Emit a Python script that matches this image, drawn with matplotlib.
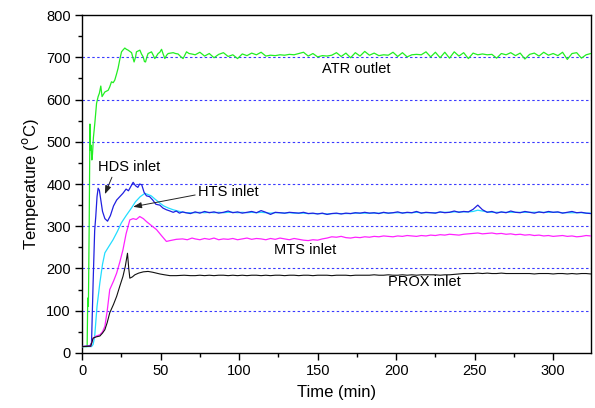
import numpy as np
import matplotlib
matplotlib.use("Agg")
import matplotlib.pyplot as plt
from matplotlib.ticker import MultipleLocator

plt.rcParams['font.family'] = ['Liberation Sans', 'DejaVu Sans']

# ---------------- data ----------------
atr_t_early = [0, 3.2, 3.6, 4.0, 4.5, 5.0, 5.3, 5.7, 6.2, 6.6, 7.2, 8.1, 9.2, 10.2, 11.0,
               11.9, 12.7, 13.5, 14.5, 15.5, 16.6, 17.6, 18.7, 19.8, 20.8, 21.9, 22.9, 24.0, 25.1, 26.2,
               27.2, 28.2, 29.3, 30.4, 31.5, 32.3, 33.1, 34.0, 34.6, 35.7, 36.8, 37.8, 38.9, 39.7, 40.4,
               41.2, 42.0, 43.1, 44.2, 45.3, 46.3, 47.4, 48.4, 49.5, 50.6, 51.6, 52.7, 53.8, 54.8, 56.4,
               58.0, 59.5, 61.1, 62.7, 64.3, 65.4, 66.5, 68.1, 69.7]
atr_v_early = [15, 15, 130, 110, 300, 542, 480, 492, 457, 470, 510, 544, 591, 607, 615,
               632, 607, 612, 618, 620, 622, 630, 642, 640, 646, 660, 674, 695, 713, 718,
               722, 719, 717, 714, 711, 700, 689, 700, 713, 715, 717, 708, 701, 690, 689,
               700, 709, 711, 713, 705, 697, 703, 709, 712, 719, 708, 697, 705, 709, 710,
               711, 709, 708, 702, 697, 705, 713, 709, 708]

hds_t_early = [0, 5.0, 6.0, 7.0, 8.0, 8.7, 9.5, 10.2, 11.0, 12.0, 13.0, 14.5, 16.2, 18.0, 20.0,
               22.0, 24.0, 26.0, 28.0, 29.5, 31.0, 32.5, 34.0, 35.5, 36.7, 38.0, 39.5, 41.0, 43.0, 45.0,
               47.0, 49.5, 51.5, 53.7, 56.0, 58.0, 60.0, 62.0, 64.0, 66.0, 69.0]
hds_v_early = [15, 17, 24, 165, 290, 323, 370, 390, 385, 360, 335, 318, 312, 325, 348,
               362, 370, 378, 388, 384, 394, 404, 396, 392, 400, 398, 380, 372, 370, 362,
               352, 350, 343, 339, 336, 333, 336, 331, 334, 332, 330]

hts_t_early = [0, 6, 7, 8, 9.5, 11.3, 13, 14.5, 17, 19.7, 22.5, 25, 28, 31.4, 34,
               37, 40, 42, 44, 46.5, 49.5, 52, 55, 58, 61, 64, 67, 69]
hts_v_early = [15, 15, 20, 39, 110, 166, 210, 237, 252, 268, 288, 308, 325, 343, 358,
               370, 378, 375, 372, 364, 355, 348, 343, 339, 336, 333, 332, 332]

mts_t_early = [0, 5.5, 7, 9, 11.3, 13, 14.5, 16, 17.6, 20, 22, 24, 26, 28, 30.4,
               32.5, 34.5, 36.7, 39, 41, 44, 47.4, 50.5, 53.7, 56, 60, 64, 67, 70]
mts_v_early = [15, 16, 35, 40, 43, 50, 63, 100, 150, 170, 189, 215, 244, 282, 315,
               318, 316, 323, 318, 311, 302, 292, 278, 264, 266, 269, 270, 268, 272]

prox_t_early = [0, 5.5, 7, 9, 11.3, 13, 14.5, 16, 17.6, 20, 22, 24, 26, 27.5, 28.9,
                29.7, 30.4, 32, 33.6, 36, 39, 42, 45, 49.5, 52.5, 55.9, 60, 65, 69]
prox_v_early = [15, 16, 35, 38, 40, 47, 55, 72, 95, 115, 134, 158, 181, 205, 236,
                200, 177, 180, 185, 189, 192, 193, 191, 187, 185, 183, 183, 184, 183]

# steady part, sampled every 3 min from 72 to 324
t_late = list(range(72, 325, 3))
atr_v_late = [706, 712, 703, 709, 699, 707, 711, 702, 706, 697,
              708, 704, 710, 706, 712, 703, 705, 704, 706, 705,
              707, 706, 709, 712, 703, 709, 701, 704, 703, 705,
              711, 702, 710, 699, 711, 703, 714, 705, 710, 704,
              706, 705, 712, 702, 711, 701, 706, 707, 706, 713,
              701, 712, 699, 712, 698, 713, 703, 711, 697, 710,
              706, 708, 706, 707, 698, 709, 706, 711, 704, 710,
              696, 707, 710, 703, 712, 705, 709, 704, 712, 695,
              709, 711, 698, 706, 709]
hds_v_late = [334, 331, 335, 332, 334, 331, 333, 336, 332, 334,
              331, 333, 335, 332, 337, 333, 328, 333, 332, 331,
              333, 332, 331, 333, 330, 331, 329, 331, 328, 330,
              331, 329, 331, 330, 332, 331, 333, 331, 332, 330,
              333, 331, 332, 334, 331, 333, 332, 335, 331, 333,
              332, 331, 334, 332, 333, 336, 333, 335, 334, 340,
              350, 339, 333, 335, 331, 334, 332, 336, 333, 332,
              335, 333, 331, 334, 332, 335, 333, 334, 331, 333,
              335, 332, 333, 331, 330]
hts_v_late = [332, 333, 332, 333, 332, 333, 332, 333, 333, 332,
              333, 332, 333, 332, 333, 332, 331, 332, 332, 331,
              332, 331, 331, 331, 330, 330, 330, 330, 329, 330,
              330, 330, 330, 330, 331, 331, 331, 331, 331, 331,
              332, 331, 332, 332, 332, 332, 332, 333, 332, 332,
              332, 332, 333, 333, 333, 334, 334, 334, 334, 335,
              338, 336, 334, 333, 333, 333, 333, 333, 333, 333,
              333, 333, 333, 333, 333, 333, 333, 333, 332, 332,
              332, 332, 332, 331, 331]
mts_v_late = [270, 268, 271, 269, 272, 268, 270, 269, 271, 268,
              270, 272, 269, 271, 270, 268, 271, 269, 272, 270,
              268, 271, 269, 267, 266, 268, 267, 270, 272, 275,
              274, 276, 273, 272, 274, 273, 275, 274, 276, 275,
              277, 276, 275, 277, 276, 278, 277, 276, 278, 277,
              279, 278, 280, 279, 281, 280, 279, 281, 282, 283,
              284, 282, 283, 284, 282, 283, 281, 282, 280, 281,
              279, 280, 278, 279, 277, 278, 276, 277, 278, 276,
              277, 275, 276, 278, 277]
prox_v_late = [183, 184, 183, 184, 183, 184, 184, 183, 184, 183,
               184, 183, 184, 184, 183, 184, 183, 184, 184, 183,
               184, 184, 183, 184, 184, 183, 184, 184, 184, 183,
               184, 184, 184, 183, 184, 184, 184, 184, 185, 184,
               184, 185, 184, 184, 185, 184, 185, 184, 185, 185,
               185, 185, 184, 185, 185, 186, 187, 188, 188, 188,
               189, 188, 189, 188, 188, 189, 188, 188, 188, 188,
               188, 188, 187, 188, 188, 188, 187, 188, 188, 187,
               188, 187, 188, 188, 187]

x_ticks = [0, 50, 100, 150, 200, 250, 300]
y_ticks = [0, 100, 200, 300, 400, 500, 600, 700, 800]

# ---------------- figure ----------------
fig = plt.figure(figsize=(5.95, 4.08), dpi=100)
ax = fig.add_axes([0.138, 0.135, 0.855, 0.828])

for y in y_ticks[1:-1]:
    ax.axhline(y, color='#3a3aff', lw=0.8, ls=(0, (2.2, 2.2)), zorder=1)

series = [
    (atr_t_early, atr_v_early, atr_v_late, '#22ee22', 0.9),
    (hts_t_early, hts_v_early, hts_v_late, '#22ddff', 0.9),
    (hds_t_early, hds_v_early, hds_v_late, '#2020e0', 0.9),
    (mts_t_early, mts_v_early, mts_v_late, '#ff22ff', 0.9),
    (prox_t_early, prox_v_early, prox_v_late, '#111111', 0.8),
]
for te, ve, vl, c, lw in series:
    ax.plot(list(te) + t_late, list(ve) + vl, color=c, lw=lw, zorder=3)

ax.set_xlim(0, 324)
ax.set_ylim(0, 800)
ax.set_xticks(x_ticks)
ax.set_yticks(y_ticks)
ax.xaxis.set_minor_locator(MultipleLocator(25))
ax.yaxis.set_minor_locator(MultipleLocator(50))
ax.tick_params(which='both', direction='out', top=False, right=False, width=1.0)
ax.tick_params(which='major', length=5, labelsize=10.5, pad=3)
ax.tick_params(which='minor', length=3)
for s in ax.spines.values():
    s.set_linewidth(1.0)

ax.set_xlabel('Time (min)', fontsize=12, labelpad=5)
ax.set_ylabel('Temperature ($^{\\rm o}$C)', fontsize=12, labelpad=4)

fs = 10.5
ax.text(153, 672, 'ATR outlet', fontsize=fs, va='center', ha='left')
ax.text(122, 244, 'MTS inlet', fontsize=fs, va='center', ha='left')
ax.text(195, 167, 'PROX inlet', fontsize=fs, va='center', ha='left')
ax.text(10, 440, 'HDS inlet', fontsize=fs, va='center', ha='left')
ax.text(74, 381, 'HTS inlet', fontsize=fs, va='center', ha='left')

ax.annotate('', xy=(14.5, 376), xytext=(19, 416),
            arrowprops=dict(arrowstyle='-|>,head_length=0.5,head_width=0.18',
                            color='#222222', lw=0.7, shrinkA=0, shrinkB=0))
ax.annotate('', xy=(32.5, 346), xytext=(72, 374),
            arrowprops=dict(arrowstyle='-|>,head_length=0.5,head_width=0.18',
                            color='#222222', lw=0.7, shrinkA=0, shrinkB=0))

fig.savefig('out.png', dpi=100)
